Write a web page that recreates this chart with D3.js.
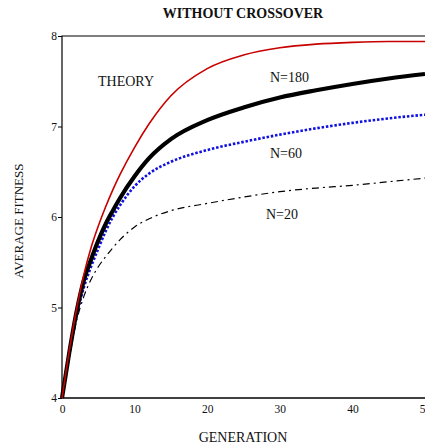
<!DOCTYPE html>
<html>
<head>
<meta charset="utf-8">
<script src="https://cdn.jsdelivr.net/npm/d3@7"></script>
<style>
  body { margin: 0; background: #fff; }
  svg text { font-family: "Liberation Serif", "Times New Roman", serif; fill: #111; }
</style>
</head>
<body>
<div id="chart"></div>
<script>
'use strict';

// generations sampled along the curves
let generations = [0, 1, 2, 3, 4, 5, 6, 7, 8, 10, 12, 15, 20, 25, 30, 35, 40, 45, 50];

// average fitness
let theory = [4.0, 4.52, 4.98, 5.36, 5.66, 5.9, 6.11, 6.3, 6.47, 6.77, 7.03, 7.34, 7.64, 7.79, 7.87, 7.91, 7.93, 7.94, 7.94];
let n180   = [4.0, 4.5, 4.95, 5.3, 5.53, 5.74, 5.92, 6.07, 6.21, 6.45, 6.65, 6.86, 7.07, 7.21, 7.32, 7.40, 7.47, 7.53, 7.58];
let n60    = [4.0, 4.48, 4.9, 5.22, 5.45, 5.65, 5.84, 6.0, 6.13, 6.34, 6.48, 6.61, 6.74, 6.83, 6.91, 6.98, 7.04, 7.09, 7.13];
let n20    = [4.0, 4.45, 4.85, 5.12, 5.31, 5.45, 5.56, 5.66, 5.75, 5.89, 5.98, 6.07, 6.15, 6.22, 6.28, 6.32, 6.35, 6.39, 6.43];

let xTicks = [0, 10, 20, 30, 40, 50];
let yTicks = [4, 5, 6, 7, 8];

const width = 425, height = 445;
const plotLeft = 62, plotTop = 36, plotBottom = 398, plotRight = 425;

let svg = d3.select("#chart").append("svg")
    .attr("width", width)
    .attr("height", height);

let x = d3.scaleLinear().domain([0, 50]).range([plotLeft, plotRight]);
let y = d3.scaleLinear().domain([4, 8]).range([plotBottom, plotTop]);

// frame (runs past the right edge like the original)
svg.append("path")
    .attr("d", `M${plotLeft},${plotBottom} L${plotLeft},${plotTop} L${width + 10},${plotTop}`)
    .attr("fill", "none").attr("stroke", "#000").attr("stroke-width", 1.2);
svg.append("line")
    .attr("x1", plotLeft).attr("x2", width + 10)
    .attr("y1", plotBottom).attr("y2", plotBottom)
    .attr("stroke", "#000").attr("stroke-width", 1.5);

// axes
let yAxis = d3.axisLeft(y).tickValues(yTicks).tickSize(4).tickPadding(1).tickFormat(d3.format("d"));
let gy = svg.append("g").attr("transform", `translate(${plotLeft},0)`).call(yAxis);
gy.select(".domain").remove();
gy.selectAll("text").attr("font-size", 11.5).attr("font-family", "Liberation Serif");

let xAxis = d3.axisBottom(x).tickValues(xTicks).tickSize(0).tickPadding(7).tickFormat(d3.format("d"));
let gx = svg.append("g").attr("transform", `translate(0,${plotBottom})`).call(xAxis);
gx.select(".domain").remove();
gx.selectAll("text").attr("font-size", 11.5).attr("font-family", "Liberation Serif");

let line = d3.line()
    .x((d, i) => x(generations[i]))
    .y(d => y(d))
    .curve(d3.curveMonotoneX);

let series = [
    { values: n20, color: "#000", widthPx: 1.2, dash: "7,4,2,4" },
    { values: n60, color: "#1010e0", widthPx: 2.6, dash: "2.5,1.8" },
    { values: n180, color: "#000", widthPx: 4.2, dash: null },
    { values: theory, color: "#c80000", widthPx: 1.6, dash: null }
];

series.forEach(s => {
    svg.append("path")
        .datum(s.values)
        .attr("d", line)
        .attr("fill", "none")
        .attr("stroke", s.color)
        .attr("stroke-width", s.widthPx)
        .attr("stroke-dasharray", s.dash);
});

// labels
svg.append("text").text("WITHOUT CROSSOVER")
    .attr("x", 243).attr("y", 18).attr("text-anchor", "middle")
    .attr("font-size", 14).attr("font-weight", "bold");

let labels = [
    ["THEORY", 98, 86],
    ["N=180", 270, 81.5],
    ["N=60", 270, 157.5],
    ["N=20", 266, 219]
];
labels.forEach(l => {
    svg.append("text").text(l[0])
        .attr("x", l[1]).attr("y", l[2])
        .attr("font-size", 14);
});

svg.append("text").text("GENERATION")
    .attr("x", 243).attr("y", 441.5).attr("text-anchor", "middle")
    .attr("font-size", 14);

svg.append("text").text("AVERAGE FITNESS")
    .attr("transform", "translate(23,221) rotate(-90)")
    .attr("text-anchor", "middle")
    .attr("font-size", 13);
</script>
</body>
</html>
